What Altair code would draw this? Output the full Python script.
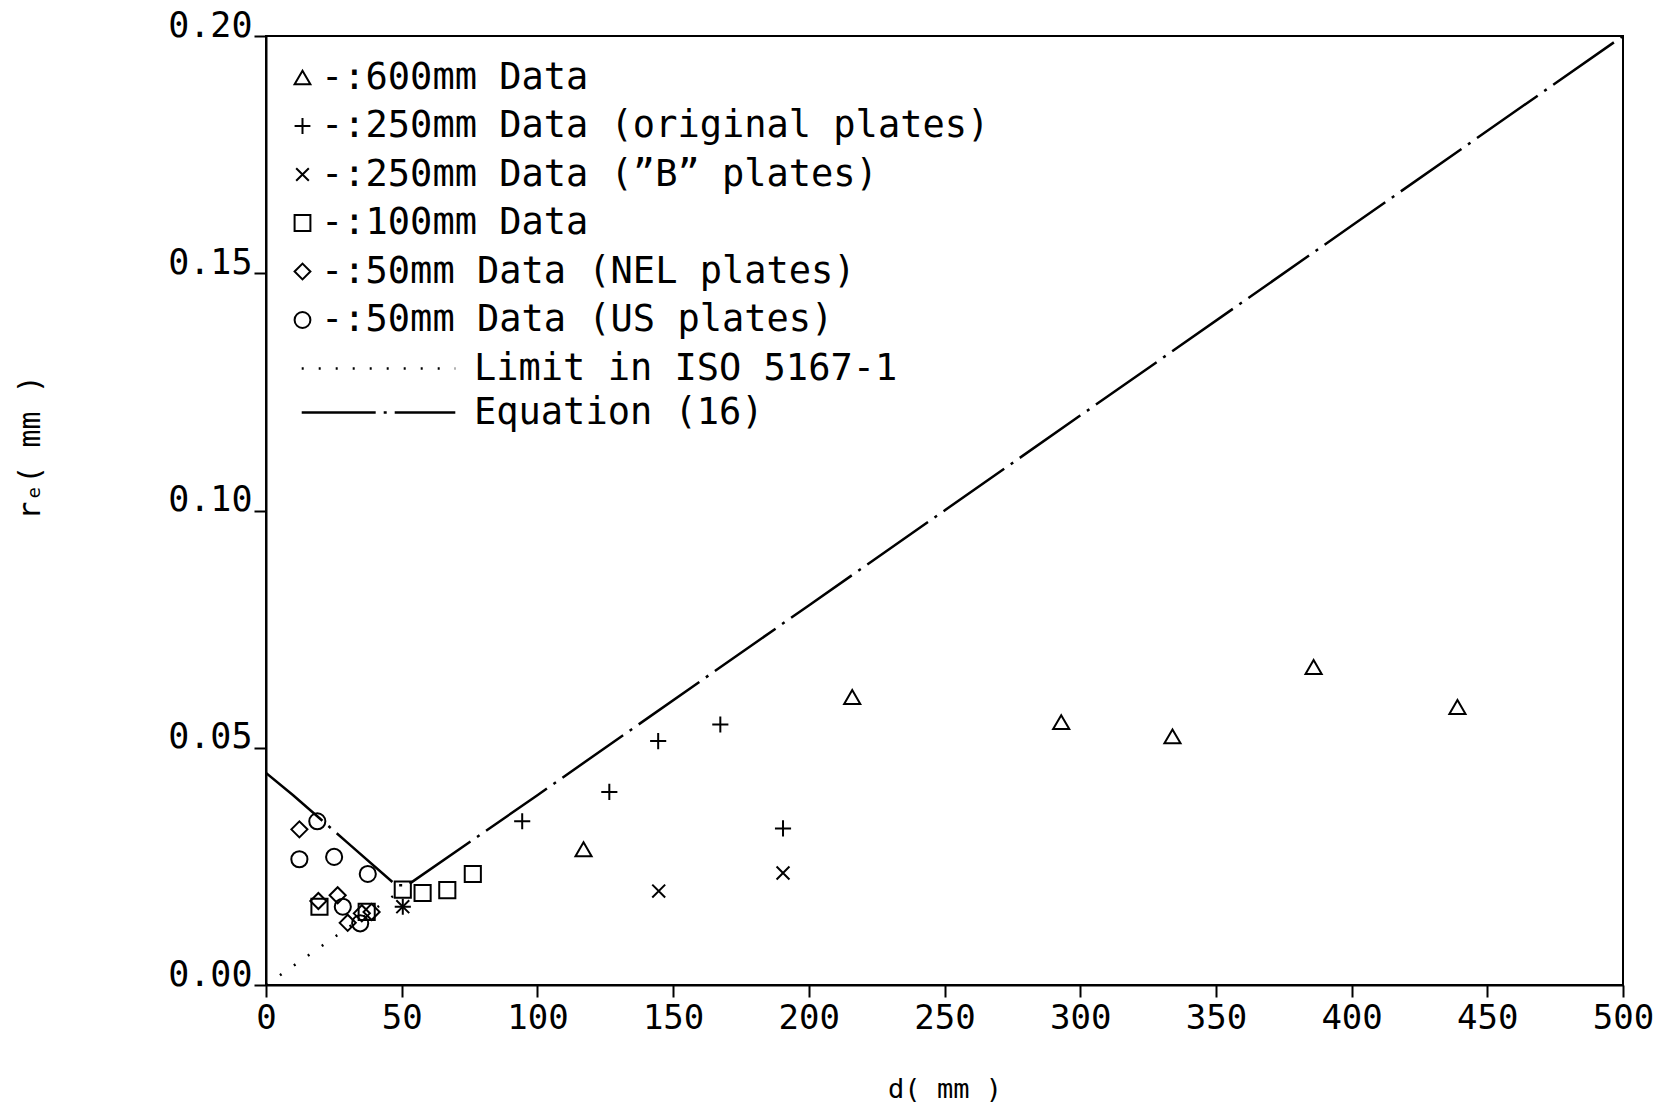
import altair as alt
import pandas as pd

FONT = "DejaVu Sans Mono"

# ---- data ----
series_names = [
    "-:600mm Data",
    "-:250mm Data (original plates)",
    "-:250mm Data (\u201dB\u201d plates)",
    "-:100mm Data",
    "-:50mm Data (NEL plates)",
    "-:50mm Data (US plates)",
]
series_shapes = [
    "triangle-up",
    "M-1,0H1M0,-1V1",
    "M-0.8,-0.8L0.8,0.8M0.8,-0.8L-0.8,0.8",
    "square",
    "diamond",
    "circle",
]

d_600 = [117, 216, 293, 334, 386, 439]
r_600 = [0.0286, 0.0607, 0.0554, 0.0524, 0.0670, 0.0586]

d_250o = [50.4, 94.4, 126.5, 144.5, 167.4, 190.5]
r_250o = [0.0165, 0.0345, 0.0407, 0.0514, 0.0549, 0.0330]

d_250b = [50.4, 144.7, 190.5]
r_250b = [0.0165, 0.0198, 0.0236]

d_100 = [19.7, 37.1, 50.4, 57.7, 66.8, 76.2]
r_100 = [0.0165, 0.0154, 0.0201, 0.0194, 0.0200, 0.0234]

d_nel = [12.3, 19.3, 26.4, 30.1, 35.3, 38.9]
r_nel = [0.0328, 0.0177, 0.0189, 0.0131, 0.0151, 0.0154]

d_us = [12.3, 18.9, 25.1, 28.3, 34.7, 37.5]
r_us = [0.0265, 0.0345, 0.0270, 0.0165, 0.0130, 0.0234]

line_names = ["Limit in ISO 5167-1", "Equation (16)"]
d_limit = [0, 50]
r_limit = [0.0, 0.020]
d_eq = [0, 10, 30, 48, 52, 100, 200, 300, 400, 500]
r_eq = [0.0447, 0.040, 0.030, 0.021, 0.021, 0.040, 0.080, 0.120, 0.160, 0.200]

x_ticks = [0, 50, 100, 150, 200, 250, 300, 350, 400, 450, 500]
y_ticks = [0.0, 0.05, 0.10, 0.15, 0.20]

# ---- tables ----
rows = []
for name, ds, rs in zip(series_names,
                        [d_600, d_250o, d_250b, d_100, d_nel, d_us],
                        [r_600, r_250o, r_250b, r_100, r_nel, r_us]):
    for d, r in zip(ds, rs):
        rows.append({"series": name, "d": d, "r": r})
pts = pd.DataFrame(rows)

lrows = []
for name, ds, rs in zip(line_names, [d_limit, d_eq], [r_limit, r_eq]):
    for d, r in zip(ds, rs):
        lrows.append({"series": name, "d": d, "r": r})
lns = pd.DataFrame(lrows)

x_enc = alt.X(
    "d:Q",
    scale=alt.Scale(domain=[0, 500], nice=False, zero=False),
    axis=alt.Axis(values=x_ticks, format="d", title="d( mm )",
                  labelFontSize=34, labelPadding=4, labelFlush=False,
                  titleY=104, titleBaseline="middle", titleFontSize=27),
)
y_enc = alt.Y(
    "r:Q",
    scale=alt.Scale(domain=[0, 0.2], nice=False),
    axis=alt.Axis(values=y_ticks, format=".2f", title="r\u2091( mm )",
                  labelFontSize=35, labelPadding=2, labelBaseline="alphabetic",
                  labelFlush=False,
                  titleX=-236, titleY=411, titleAngle=270,
                  titleAlign="center", titleBaseline="middle", titleFontSize=30),
)

lines = alt.Chart(lns).mark_line(color="black", strokeWidth=2.5, clip=True).encode(
    x=x_enc,
    y=y_enc,
    strokeDash=alt.StrokeDash(
        "series:N",
        scale=alt.Scale(domain=line_names, range=[[2, 15], [74, 8, 3, 8]]),
        legend=alt.Legend(
            title=None, orient="none", legendX=87, legendY=307,
            symbolType="M-3.2,0H3.2", symbolSize=2304, symbolStrokeWidth=2.5,
            symbolStrokeColor="black", labelOffset=70, rowPadding=0, padding=0,
            labelFont=FONT, labelFontSize=37, labelColor="black", labelLimit=1000,
        ),
    ),
)

points = alt.Chart(pts).mark_point(
    filled=False, color="black", strokeWidth=2, size=260, opacity=1
).encode(
    x=x_enc,
    y=y_enc,
    shape=alt.Shape(
        "series:N",
        scale=alt.Scale(domain=series_names, range=series_shapes),
        legend=alt.Legend(
            title=None, orient="none", legendX=12, legendY=23,
            symbolSize=250, symbolStrokeWidth=2, symbolStrokeColor="black",
            symbolOffset=6, labelOffset=0, rowPadding=10.5, padding=0,
            labelFont=FONT, labelFontSize=37, labelColor="black", labelLimit=1000,
        ),
    ),
)

chart = (
    alt.layer(lines, points)
    .properties(
        width=1357, height=949,
        autosize=alt.AutoSizeParams(type="none"),
        padding={"left": 266, "top": 36, "right": 38, "bottom": 123},
        background="white",
    )
    .configure_view(stroke="black", strokeWidth=2)
    .configure_axis(
        grid=False, domainColor="black", domainWidth=2,
        tickColor="black", tickWidth=2, tickSize=12,
        labelFont=FONT, labelColor="black", titleFont=FONT,
        titleColor="black", titleFontWeight="normal",
    )
)

chart.save("out.html", embed_options={"renderer": "svg", "actions": False})
